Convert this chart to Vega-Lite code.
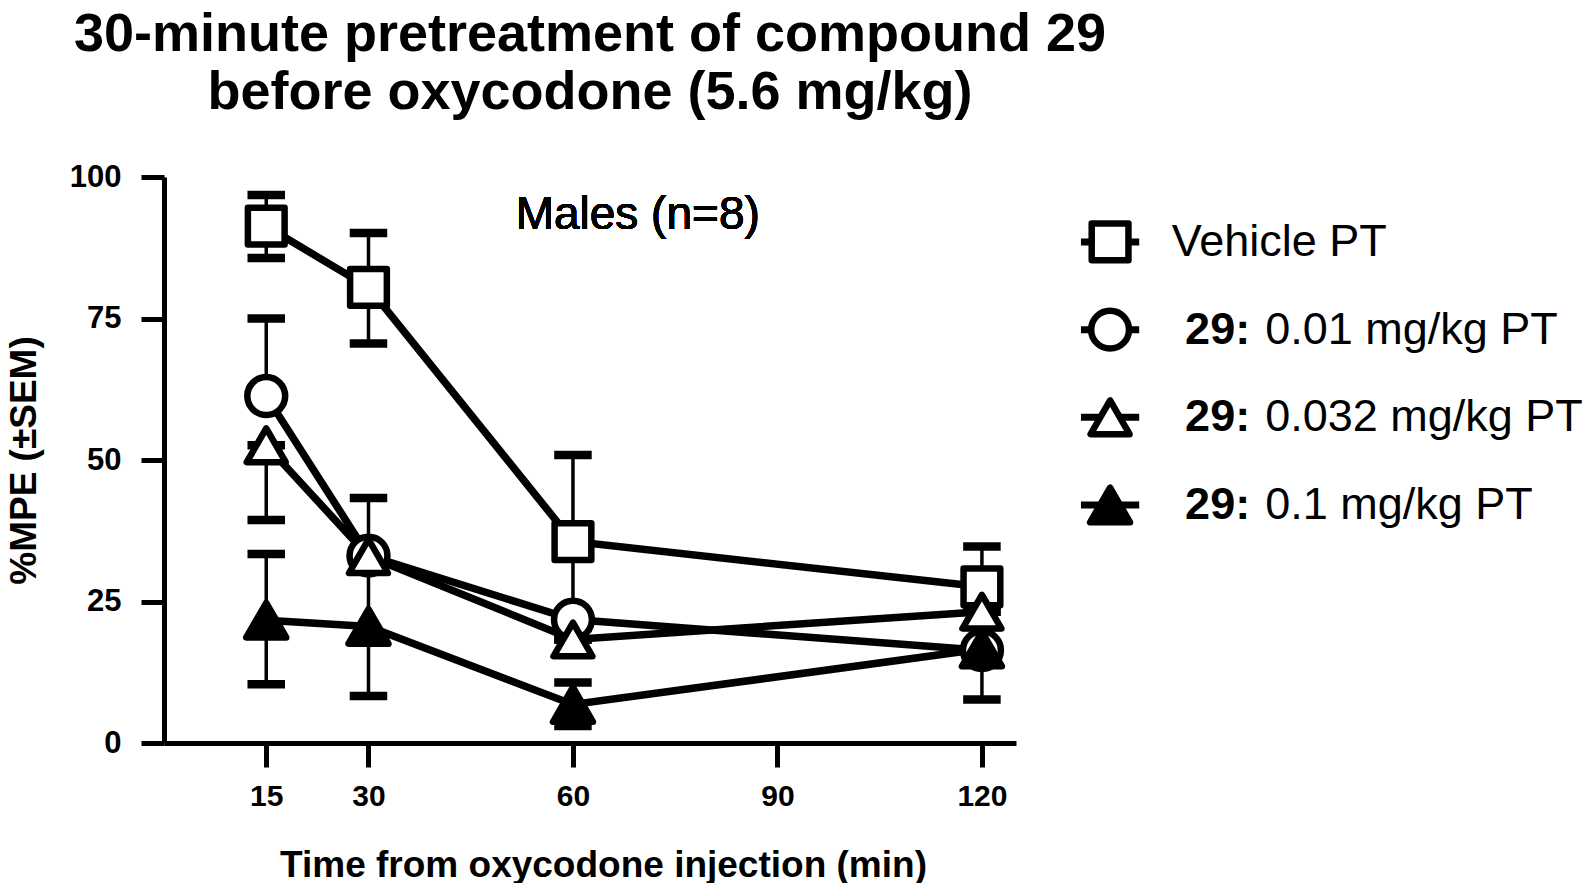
{
  "$schema": "https://vega.github.io/schema/vega-lite/v6.json",
  "background": "white",
  "padding": {"left": 5, "top": 8, "right": 0, "bottom": 0},
  "spacing": 0,
  "bounds": "flush",
  "config": {"font": "Liberation Sans", "view": {"stroke": null}},
  "datasets": {
    "pts": [
      {"series": "Vehicle PT", "t": 15, "mean": 91.3, "lo": 85.7, "hi": 96.8},
      {"series": "Vehicle PT", "t": 30, "mean": 80.5, "lo": 70.6, "hi": 90.1},
      {"series": "Vehicle PT", "t": 60, "mean": 35.6, "lo": 20.3, "hi": 50.9},
      {"series": "Vehicle PT", "t": 120, "mean": 27.6, "lo": 20.5, "hi": 34.7},
      {"series": "29: 0.01 mg/kg PT", "t": 15, "mean": 61.3, "lo": 61.3, "hi": 75.0},
      {"series": "29: 0.01 mg/kg PT", "t": 30, "mean": 33.1, "lo": 33.1, "hi": 43.3},
      {"series": "29: 0.01 mg/kg PT", "t": 60, "mean": 21.8, "lo": 21.8, "hi": 21.8},
      {"series": "29: 0.01 mg/kg PT", "t": 120, "mean": 16.4, "lo": 7.7, "hi": 16.4},
      {"series": "29: 0.032 mg/kg PT", "t": 15, "mean": 52.6, "lo": 39.4, "hi": 52.6},
      {"series": "29: 0.032 mg/kg PT", "t": 30, "mean": 33.0, "lo": 33.0, "hi": 33.0},
      {"series": "29: 0.032 mg/kg PT", "t": 60, "mean": 18.3, "lo": 18.3, "hi": 18.3},
      {"series": "29: 0.032 mg/kg PT", "t": 120, "mean": 23.2, "lo": 23.2, "hi": 23.2},
      {"series": "29: 0.1 mg/kg PT", "t": 15, "mean": 21.7, "lo": 10.4, "hi": 33.4},
      {"series": "29: 0.1 mg/kg PT", "t": 30, "mean": 20.6, "lo": 8.3, "hi": 32.9},
      {"series": "29: 0.1 mg/kg PT", "t": 60, "mean": 6.8, "lo": 3.0, "hi": 10.7},
      {"series": "29: 0.1 mg/kg PT", "t": 120, "mean": 16.6, "lo": 16.6, "hi": 16.6}
    ],
    "leg": [
      {"series": "Vehicle PT", "b": "", "rest": "Vehicle PT"},
      {"series": "29: 0.01 mg/kg PT", "b": "29:", "rest": "0.01 mg/kg PT"},
      {"series": "29: 0.032 mg/kg PT", "b": "29:", "rest": "0.032 mg/kg PT"},
      {"series": "29: 0.1 mg/kg PT", "b": "29:", "rest": "0.1 mg/kg PT"}
    ]
  },
  "hconcat": [
    {
      "width": 852,
      "height": 566,
      "title": {
        "text": ["30-minute pretreatment of compound 29", "before oxycodone (5.6 mg/kg)"],
        "fontSize": 54,
        "fontWeight": "bold",
        "lineHeight": 58,
        "anchor": "middle",
        "offset": 41,
        "color": "black"
      },
      "data": {"name": "pts"},
      "encoding": {
        "x": {
          "field": "t",
          "type": "quantitative",
          "scale": {"domain": [0, 125], "nice": false, "zero": false},
          "axis": {
            "values": [15, 30, 60, 90, 120],
            "title": "Time from oxycodone injection (min)",
            "grid": false,
            "domainColor": "black", "domainWidth": 5,
            "tickColor": "black", "tickWidth": 5, "tickSize": 24,
            "labelFontSize": 30, "labelFontWeight": "bold", "labelColor": "black",
            "labelPadding": 14, "labelFlush": false, "labelOverlap": false,
            "titleFontSize": 37, "titleFontWeight": "bold", "titleColor": "black",
            "titlePadding": 36, "titleX": 439, "titleAlign": "center"
          }
        }
      },
      "layer": [
        {
          "mark": {"type": "rule", "color": "black"},
          "encoding": {
            "y": {
              "field": "lo",
              "type": "quantitative",
              "scale": {"domain": [0, 100], "nice": false},
              "axis": {
                "values": [0, 25, 50, 75, 100],
                "title": "%MPE (±SEM)",
                "grid": false,
                "domainColor": "black", "domainWidth": 5,
                "tickColor": "black", "tickWidth": 5, "tickSize": 23,
                "labelFontSize": 31, "labelFontWeight": "bold", "labelColor": "black",
                "labelPadding": 20, "labelFlush": false, "labelOverlap": false,
                "titleFontSize": 37, "titleFontWeight": "bold", "titleColor": "black",
                "titlePadding": 26
              }
            },
            "y2": {"field": "hi"},
            "strokeWidth": {
              "field": "series", "type": "nominal", "legend": null,
              "scale": {"domain": ["Vehicle PT", "29: 0.01 mg/kg PT", "29: 0.032 mg/kg PT", "29: 0.1 mg/kg PT"], "range": [3.5, 3.5, 3.5, 7]}
            }
          }
        },
        {
          "mark": {"type": "tick", "orient": "horizontal", "size": 34, "thickness": 5, "color": "black", "stroke": "black", "opacity": 1},
          "encoding": {
            "y": {"field": "lo", "type": "quantitative"},
            "strokeWidth": {
              "field": "series", "type": "nominal", "legend": null,
              "scale": {"domain": ["Vehicle PT", "29: 0.01 mg/kg PT", "29: 0.032 mg/kg PT", "29: 0.1 mg/kg PT"], "range": [0, 0, 0, 3]}
            }
          }
        },
        {
          "mark": {"type": "tick", "orient": "horizontal", "size": 34, "thickness": 5, "color": "black", "stroke": "black", "opacity": 1},
          "encoding": {
            "y": {"field": "hi", "type": "quantitative"},
            "strokeWidth": {
              "field": "series", "type": "nominal", "legend": null,
              "scale": {"domain": ["Vehicle PT", "29: 0.01 mg/kg PT", "29: 0.032 mg/kg PT", "29: 0.1 mg/kg PT"], "range": [0, 0, 0, 3]}
            }
          }
        },
        {
          "mark": {"type": "line", "color": "black", "strokeWidth": 7.5},
          "encoding": {
            "y": {"field": "mean", "type": "quantitative"},
            "detail": {"field": "series", "type": "nominal"},
            "order": {"field": "t", "type": "quantitative"}
          }
        },
        {
          "mark": {"type": "point", "stroke": "black", "strokeWidth": 6.5, "opacity": 1, "strokeJoin": "round"},
          "encoding": {
            "y": {"field": "mean", "type": "quantitative"},
            "shape": {
              "field": "series", "type": "nominal", "legend": null,
              "scale": {"domain": ["Vehicle PT", "29: 0.01 mg/kg PT", "29: 0.032 mg/kg PT", "29: 0.1 mg/kg PT"], "range": ["square", "circle", "triangle-up", "triangle-up"]}
            },
            "fill": {
              "field": "series", "type": "nominal", "legend": null,
              "scale": {"domain": ["Vehicle PT", "29: 0.01 mg/kg PT", "29: 0.032 mg/kg PT", "29: 0.1 mg/kg PT"], "range": ["white", "white", "white", "black"]}
            },
            "size": {
              "field": "series", "type": "nominal", "legend": null,
              "scale": {"domain": ["Vehicle PT", "29: 0.01 mg/kg PT", "29: 0.032 mg/kg PT", "29: 0.1 mg/kg PT"], "range": [1350, 1600, 1200, 1250]}
            }
          }
        },
        {
          "mark": {"type": "text", "fontSize": 46, "color": "black", "align": "center", "baseline": "middle"},
          "encoding": {
            "x": {"datum": 69.5, "type": "quantitative"},
            "y": {"datum": 93.2, "type": "quantitative"},
            "text": {"value": "Males (n=8)"}
          }
        }
      ]
    },
    {
      "width": 560,
      "height": 393,
      "data": {"name": "leg"},
      "encoding": {
        "y": {
          "field": "series",
          "type": "nominal",
          "scale": {"type": "point", "domain": ["Vehicle PT", "29: 0.01 mg/kg PT", "29: 0.032 mg/kg PT", "29: 0.1 mg/kg PT"], "padding": 0.741},
          "axis": null
        }
      },
      "layer": [
        {
          "mark": {"type": "rule", "color": "black", "strokeWidth": 7},
          "encoding": {
            "x": {"datum": 1.16, "type": "quantitative", "scale": {"domain": [0, 10], "nice": false, "zero": false}, "axis": null},
            "x2": {"datum": 2.2}
          }
        },
        {
          "mark": {"type": "point", "stroke": "black", "strokeWidth": 6.5, "opacity": 1, "strokeJoin": "round"},
          "encoding": {
            "x": {"datum": 1.68, "type": "quantitative"},
            "shape": {
              "field": "series", "type": "nominal", "legend": null,
              "scale": {"domain": ["Vehicle PT", "29: 0.01 mg/kg PT", "29: 0.032 mg/kg PT", "29: 0.1 mg/kg PT"], "range": ["square", "circle", "triangle-up", "triangle-up"]}
            },
            "fill": {
              "field": "series", "type": "nominal", "legend": null,
              "scale": {"domain": ["Vehicle PT", "29: 0.01 mg/kg PT", "29: 0.032 mg/kg PT", "29: 0.1 mg/kg PT"], "range": ["white", "white", "white", "black"]}
            },
            "size": {
              "field": "series", "type": "nominal", "legend": null,
              "scale": {"domain": ["Vehicle PT", "29: 0.01 mg/kg PT", "29: 0.032 mg/kg PT", "29: 0.1 mg/kg PT"], "range": [1350, 1600, 1200, 1250]}
            }
          }
        },
        {
          "mark": {"type": "text", "align": "left", "baseline": "middle", "fontSize": 45, "fontWeight": "bold", "color": "black"},
          "encoding": {
            "x": {"datum": 3.02, "type": "quantitative"},
            "text": {"field": "b"}
          }
        },
        {
          "transform": [{"filter": "datum.b == ''"}],
          "mark": {"type": "text", "align": "left", "baseline": "middle", "fontSize": 45, "color": "black"},
          "encoding": {
            "x": {"datum": 2.78, "type": "quantitative"},
            "text": {"field": "rest"}
          }
        },
        {
          "transform": [{"filter": "datum.b != ''"}],
          "mark": {"type": "text", "align": "left", "baseline": "middle", "fontSize": 45, "color": "black"},
          "encoding": {
            "x": {"datum": 4.45, "type": "quantitative"},
            "text": {"field": "rest"}
          }
        }
      ]
    }
  ]
}
